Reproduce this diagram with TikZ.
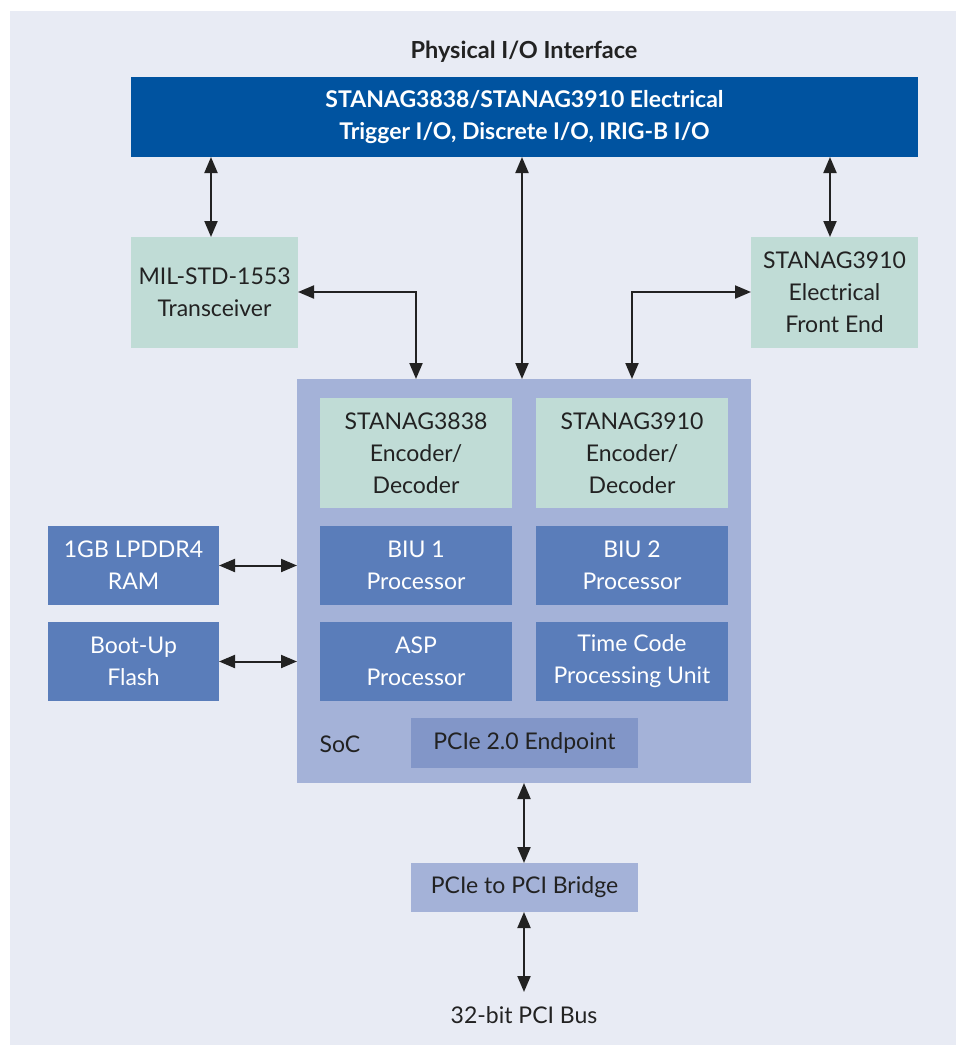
\documentclass[tikz,border=0pt]{standalone}
\usepackage{fontspec}
\setmainfont{Lato}
\usetikzlibrary{arrows.meta}
\definecolor{panel}{HTML}{E8EBF4}
\definecolor{darkblue}{HTML}{0053A0}
\definecolor{mint}{HTML}{C0DCD6}
\definecolor{socblue}{HTML}{A4B2D8}
\definecolor{midblue}{HTML}{5A7DBA}
\definecolor{epblue}{HTML}{8296C8}
\definecolor{ink}{HTML}{222222}
\tikzset{
  box/.style={anchor=north west, inner sep=0pt, outer sep=0pt, align=center, font=\fontsize{23}{32}\selectfont, text=ink},
  greenbox/.style={box, fill=mint},
  bluebox/.style={box, fill=midblue, text=white},
  conn/.style={line width=2pt, draw=ink, {Triangle[length=16pt,width=13pt]}-{Triangle[length=16pt,width=13pt]}},
}
\begin{document}
\begin{tikzpicture}[x=1pt,y=-1pt]
\useasboundingbox (0,0) rectangle (961,1045);
\fill[panel] (10,11) rectangle (956,1045);
\node[font=\fontsize{23.5}{28}\selectfont\bfseries, text=ink] (title) at (524,52) {Physical I/O Interface};
\node[box, fill=darkblue, text=white, font=\fontsize{23}{32}\selectfont\bfseries, minimum width=787pt, minimum height=80pt] (phy) at (131,77) {STANAG3838/STANAG3910 Electrical\\Trigger I/O, Discrete I/O, IRIG-B I/O};
\node[greenbox, minimum width=167pt, minimum height=111pt] (mil) at (131,237) {MIL-STD-1553\\Transceiver};
\node[greenbox, minimum width=167pt, minimum height=111pt] (fe) at (751,237) {STANAG3910\\Electrical\\Front End};
\node[box, fill=socblue, minimum width=454pt, minimum height=404pt] (soc) at (297,379) {};
\node[greenbox, minimum width=192pt, minimum height=110pt] (enc1) at (320,398) {STANAG3838\\Encoder/\\Decoder};
\node[greenbox, minimum width=192pt, minimum height=110pt] (enc2) at (536,398) {STANAG3910\\Encoder/\\Decoder};
\node[bluebox, minimum width=192pt, minimum height=79pt] (biu1) at (320,526) {BIU 1\\Processor};
\node[bluebox, minimum width=192pt, minimum height=79pt] (biu2) at (536,526) {BIU 2\\Processor};
\node[bluebox, minimum width=192pt, minimum height=79pt] (asp) at (320,622) {ASP\\Processor};
\node[bluebox, minimum width=192pt, minimum height=79pt] (tc) at (536,622) {Time Code\\Processing Unit};
\node[box, anchor=center] (soclbl) at (340,744) {SoC};
\node[box, fill=epblue, minimum width=227pt, minimum height=50pt] (ep) at (411,718) {PCIe 2.0 Endpoint};
\node[box, fill=socblue, minimum width=227pt, minimum height=49pt] (br) at (411,863) {PCIe to PCI Bridge};
\node[box, anchor=center] (bus) at (524,1015) {32-bit PCI Bus};
\coordinate (busend) at (524,992);
\node[bluebox, minimum width=171pt, minimum height=79pt] (ram) at (48,526) {1GB LPDDR4\\RAM};
\node[bluebox, minimum width=171pt, minimum height=79pt] (flash) at (48,622) {Boot-Up\\Flash};
% connectors
\draw[conn] (phy.south -| 211,0) -- (mil.north -| 211,0);
\draw[conn] (phy.south -| 830,0) -- (fe.north -| 830,0);
\draw[conn] (phy.south -| 522,0) -- (soc.north -| 522,0);
\draw[conn] (mil.east |- 0,292) -| (soc.north -| 416,0);
\draw[conn] (fe.west |- 0,292) -| (soc.north -| 632,0);
\draw[conn] (ram.east) -- (soc.west |- ram.east);
\draw[conn] (flash.east) -- (soc.west |- flash.east);
\draw[conn] (soc.south -| 524,0) -- (br.north -| 524,0);
\draw[conn] (br.south -| 524,0) -- (busend);
\end{tikzpicture}
\end{document}
